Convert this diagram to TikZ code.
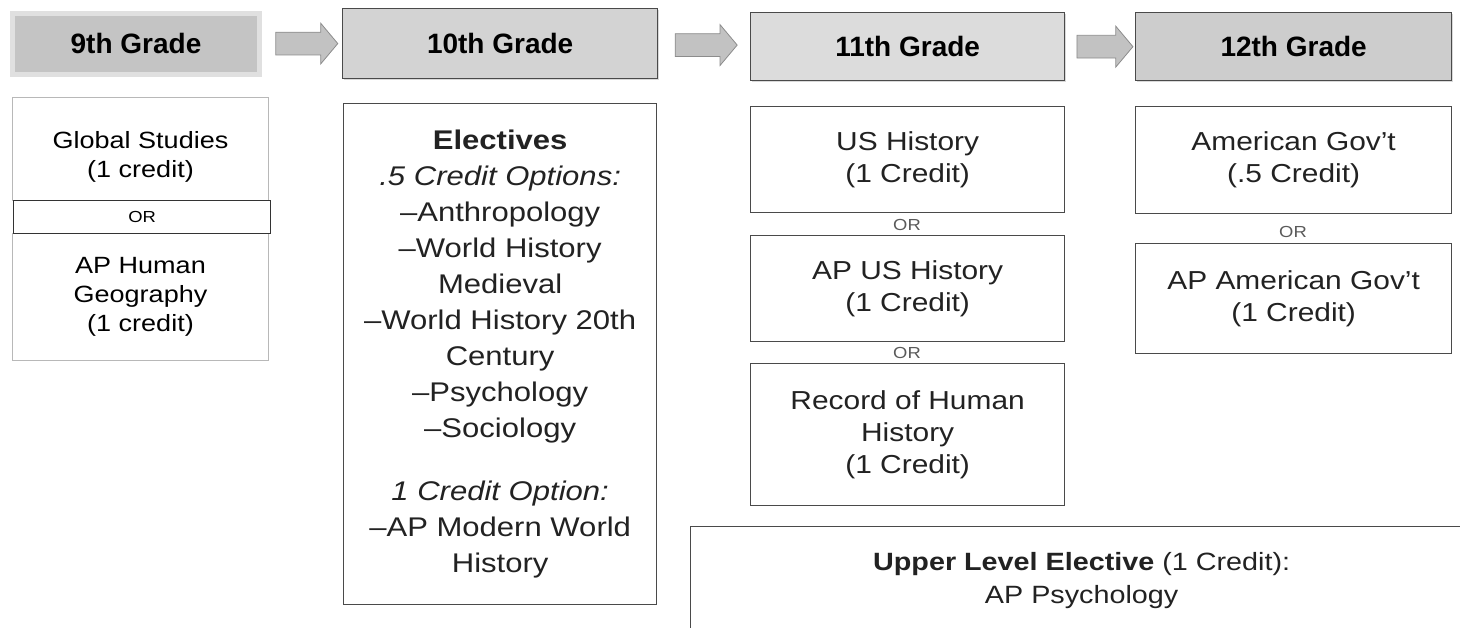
\documentclass[tikz,border=0pt]{standalone}
\usepackage{fontspec}
\setmainfont{Liberation Sans}[FakeStretch=1.15]
\newfontfamily\gradefont{Liberation Sans}
\usetikzlibrary{shapes.arrows,shadows,calc}
\definecolor{ink}{HTML}{222222}
\definecolor{edge}{HTML}{4A4A4A}
\definecolor{pale}{HTML}{B8B8B8}
\definecolor{orgray}{HTML}{5A5A5A}
\definecolor{hdrA}{HTML}{C4C4C4}
\definecolor{hdrB}{HTML}{D3D3D3}
\definecolor{hdrC}{HTML}{DCDCDC}
\definecolor{hdrD}{HTML}{CDCDCD}
\definecolor{arrfill}{HTML}{C2C2C2}
\definecolor{arredge}{HTML}{8C8C8C}
\tikzset{
  grade/.style={draw=edge,line width=1.3pt,anchor=north west,inner sep=0pt,text=black,
    font=\gradefont\bfseries\fontsize{28}{32}\selectfont,
    drop shadow={shadow xshift=1pt,shadow yshift=-1.5pt,opacity=0.3}},
  course/.style={draw=edge,line width=1.3pt,anchor=north west,inner sep=0pt,align=center,
    text=ink,fill=white,font=\fontsize{26}{32}\selectfont},
  light/.style={course,draw=pale,line width=1pt,text=black,font=\fontsize{23.5}{29}\selectfont},
  orlabel/.style={inner sep=0pt,text=orgray,font=\fontsize{16}{16}\selectfont},
  nextarr/.style={single arrow,draw=arredge,fill=arrfill,line width=0.8pt,
    minimum height=62pt,inner xsep=0pt,inner ysep=11pt,
    single arrow head extend=9pt,single arrow tip angle=100},
}
\begin{document}
\begin{tikzpicture}[x=1pt,y=-1pt]
  \useasboundingbox (0,0) rectangle (1460,627);
  \clip (0,0) rectangle (1460,627);
  % grade headers
  \node[draw=black!12,fill=hdrA,line width=5pt,minimum width=247pt,minimum height=61pt,
    inner sep=0pt,font=\gradefont\bfseries\fontsize{28}{32}\selectfont] (g9) at (136,43.5) {9th Grade};
  \node[grade,fill=hdrB,minimum width=315pt,minimum height=70pt] (g10) at (342,8) {10th Grade};
  \node[grade,fill=hdrC,minimum width=314pt,minimum height=68pt] (g11) at (750,12) {11th Grade};
  \node[grade,fill=hdrD,minimum width=316pt,minimum height=68pt] (g12) at (1135,12) {12th Grade};
  \node[nextarr] (a1) at ($(g9.east)!0.5!(g10.west)$) {};
  \node[nextarr] (a2) at ($(g10.east)!0.47!(g11.west)$) {};
  \node[nextarr,minimum height=56pt] (a3) at ($(g11.east)!0.5!(g12.west)$) {};
  % 9th grade
  \node[light,minimum width=256pt,minimum height=103pt] (glob) at (12,97)
    {\rule{0pt}{32pt}Global Studies\\(1 credit)};
  \node[light,minimum width=256pt,minimum height=127pt] (aphg) at (12,233) {AP Human\\Geography\\(1 credit)};
  \node[course,draw=black!80,line width=1.2pt,minimum width=257pt,minimum height=33pt,
    text=black,font=\fontsize{16}{16}\selectfont] (or9) at (13,200) {OR};
  % 10th grade
  \node[course,minimum width=313pt,minimum height=501pt,font=\fontsize{27}{36}\selectfont] (elec) at (343,103)
    {\textbf{Electives}\\\textit{.5 Credit Options:}\\–Anthropology\\–World History\\Medieval\\
     –World History 20th\\Century\\–Psychology\\–Sociology\\[27pt]
     \textit{1 Credit Option:}\\–AP Modern World\\History};
  % 11th grade
  \node[course,minimum width=314pt,minimum height=106pt] (ush) at (750,106) {US History\\(1 Credit)};
  \node[orlabel] (or11a) at (907,225) {OR};
  \node[course,minimum width=314pt,minimum height=106pt] (apush) at (750,235) {AP US History\\(1 Credit)};
  \node[orlabel] (or11b) at (907,353) {OR};
  \node[course,minimum width=314pt,minimum height=142pt] (rec) at (750,363) {Record of Human\\History\\(1 Credit)};
  % 12th grade
  \node[course,minimum width=316pt,minimum height=107pt] (gov) at (1135,106) {American Gov't\\(.5 Credit)};
  \node[orlabel] (or12) at (1293,232) {OR};
  \node[course,minimum width=316pt,minimum height=110pt] (apgov) at (1135,243) {AP American Gov't\\(1 Credit)};
  % upper level elective
  \node[course,minimum width=782pt,inner ysep=26pt,font=\fontsize{25}{33}\selectfont] (upper) at (690,526)
    {\textbf{Upper Level Elective} (1 Credit):\\AP Psychology};
\end{tikzpicture}
\end{document}
